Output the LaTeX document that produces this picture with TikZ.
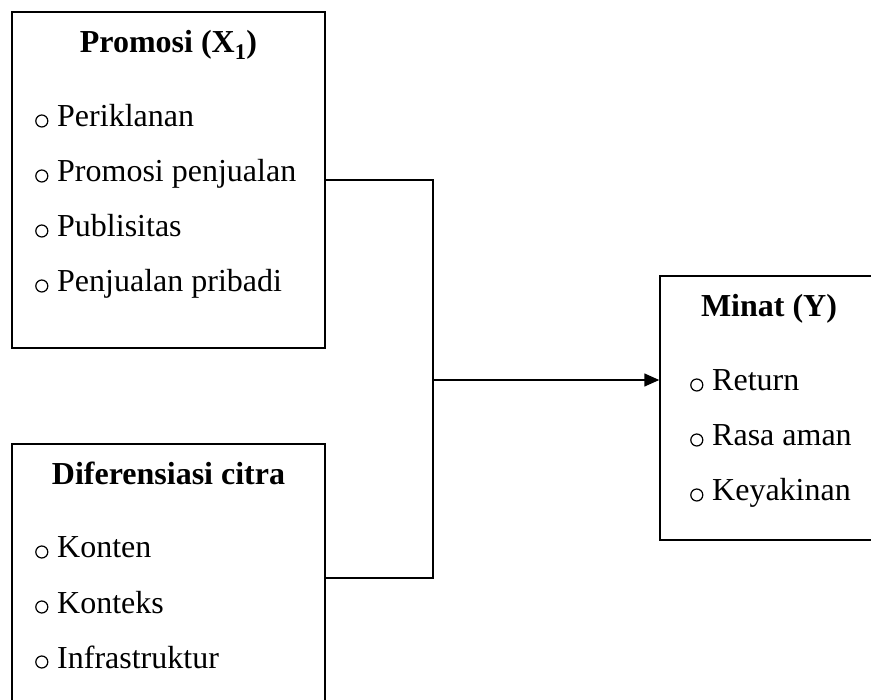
\documentclass[tikz,border=0pt]{standalone}
\usepackage{fontspec}
\setmainfont{Liberation Serif}
\usetikzlibrary{arrows.meta}

\tikzset{
    varbox/.style={draw, line width=1.5pt, inner sep=0pt},
    vartitle/.style={anchor=base, inner sep=0pt, font=\fontsize{32}{38}\selectfont\bfseries},
    varitem/.style={anchor=base west, inner sep=0pt, font=\fontsize{32}{38}\selectfont},
    link/.style={line width=1.5pt}
}
\newcommand{\bul}{\makebox[24pt][l]{\hspace{2pt}\tikz[baseline=0pt]\draw[line width=1.2pt] (0pt,6pt) circle (6pt);}}

\begin{document}
\begin{tikzpicture}[x=1pt, y=-1pt]
        \useasboundingbox (0,0) rectangle (871,700);
        \clip (0,0) rectangle (871,700);

        % Promosi
        \node[varbox, minimum width=313pt, minimum height=336pt] (prom) at (168.5,180) {};
        \node[vartitle] (promT) at (168.5,53) {Promosi (X\textsubscript{1})};
        \foreach \t [count=\i] in {Periklanan, Promosi penjualan, Publisitas, Penjualan pribadi}
            \node[varitem] (prom\i) at (33, 72+55*\i) {\bul\t};

        % Diferensiasi citra
        \node[varbox, minimum width=313pt, minimum height=268pt] (dif) at (168.5,578) {};
        \node[vartitle] (difT) at (168.5,485) {Diferensiasi citra};
        \foreach \t [count=\i] in {Konten, Konteks, Infrastruktur}
            \node[varitem] (dif\i) at (33, 503+55*\i) {\bul\t};

        % Minat
        \node[varbox, minimum width=218pt, minimum height=264pt] (min) at (769,408) {};
        \node[vartitle] (minT) at (769,317) {Minat (Y)};
        \foreach \t [count=\i] in {Return, Rasa aman, Keyakinan}
            \node[varitem] (min\i) at (688, 336+55*\i) {\bul\t};

        % connectors
        \coordinate (jb) at (433,578);
        \coordinate (jm) at (433,380);
        \draw[link] (prom.east) -| (jb) -- (dif.east);
        \draw[link, -{Triangle[length=15pt, width=13pt]}] (jm) -- (jm -| min.west);
    \end{tikzpicture}
\end{document}
